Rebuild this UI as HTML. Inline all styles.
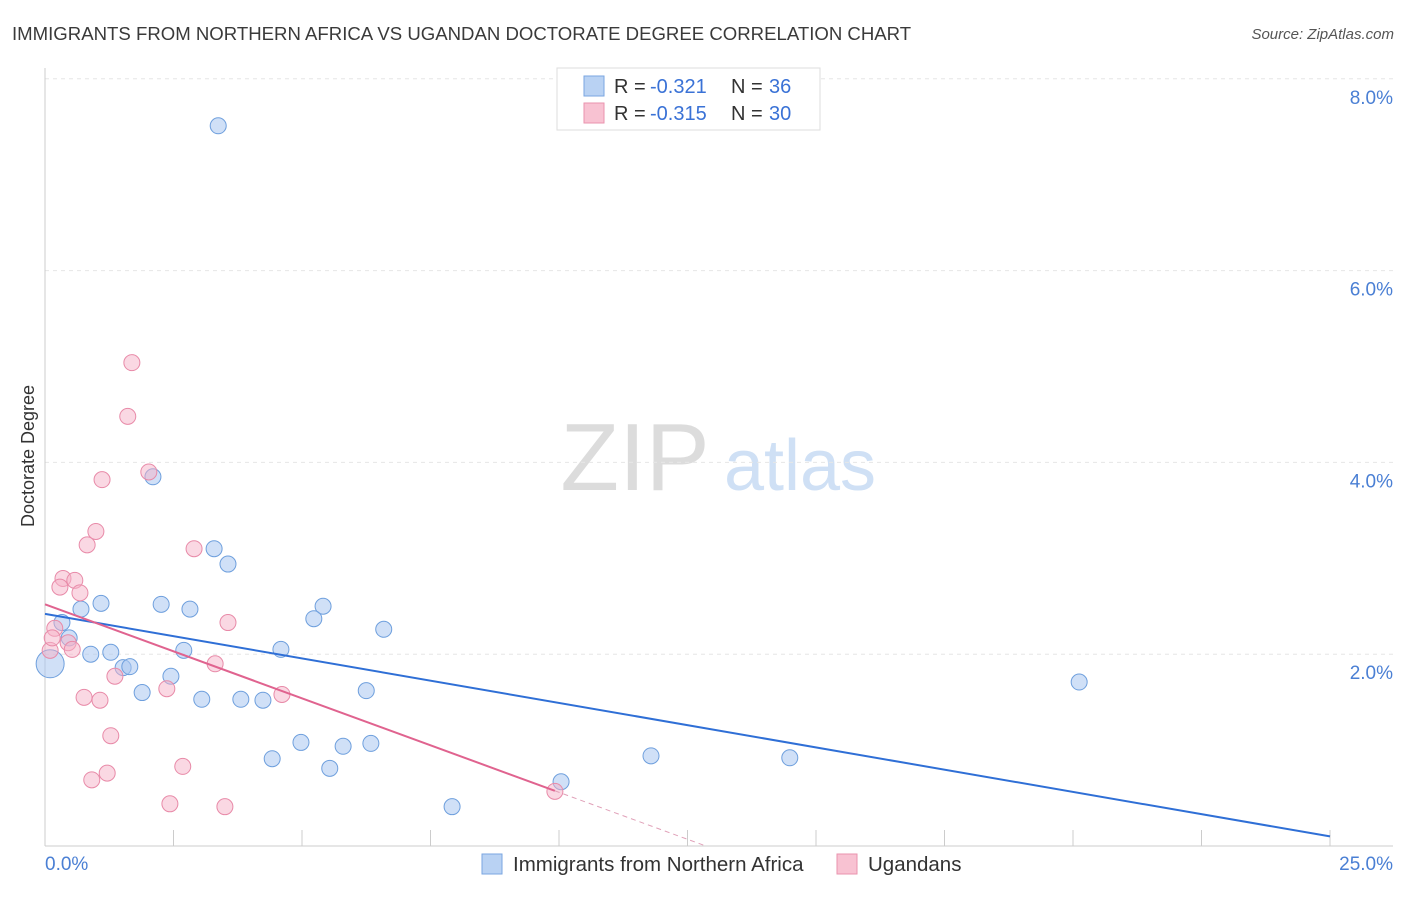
<!DOCTYPE html>
<html><head><meta charset="utf-8"><style>
body{margin:0;background:#fff;font-family:"Liberation Sans",sans-serif;}
svg text{font-family:"Liberation Sans",sans-serif;}
</style></head><body>
<svg id="chart" width="1406" height="892" viewBox="0 0 1406 892" xmlns="http://www.w3.org/2000/svg">
<text x="12" y="40" font-size="18.6" fill="#3a3a3a">IMMIGRANTS FROM NORTHERN AFRICA VS UGANDAN DOCTORATE DEGREE CORRELATION CHART</text>
<text x="1394" y="39" font-size="15" fill="#555" font-style="italic" text-anchor="end">Source: ZipAtlas.com</text>
<g>
<text x="635" y="490" font-size="96" fill="#dcdcdc" text-anchor="middle" font-family="Liberation Serif">ZIP</text>
<text x="800" y="490" font-size="72" fill="#cfe0f5" text-anchor="middle">atlas</text>
</g>
<g id="grid"></g>
<g id="axes"></g>
<g id="marks"></g>
<text transform="translate(34,456) rotate(-90)" font-size="18" fill="#333" text-anchor="middle">Doctorate Degree</text>
<g>
<rect x="557" y="68" width="263" height="62" fill="#fff" stroke="#ddd"/>
<rect x="584" y="76" width="20" height="20" fill="#b9d2f3" stroke="#7aa6e0"/>
<text x="614" y="93" font-size="20" fill="#333">R =</text>
<text x="650" y="93" font-size="20" fill="#3a72d6">-0.321</text>
<text x="731" y="93" font-size="20" fill="#333">N =</text>
<text x="769" y="93" font-size="20" fill="#3a72d6">36</text>
<rect x="584" y="103" width="20" height="20" fill="#f8c2d2" stroke="#ea93ae"/>
<text x="614" y="120" font-size="20" fill="#333">R =</text>
<text x="650" y="120" font-size="20" fill="#3a72d6">-0.315</text>
<text x="731" y="120" font-size="20" fill="#333">N =</text>
<text x="769" y="120" font-size="20" fill="#3a72d6">30</text>
</g>
<g>
<rect x="482" y="854" width="20" height="20" fill="#b9d2f3" stroke="#7aa6e0"/>
<text x="513" y="871" font-size="20.5" fill="#333">Immigrants from Northern Africa</text>
<rect x="837" y="854" width="20" height="20" fill="#f8c2d2" stroke="#ea93ae"/>
<text x="868" y="871" font-size="20.5" fill="#333">Ugandans</text>
</g>
</svg>
<script>
const blueX=[3.37,2.10,3.29,3.56,1.09,0.70,2.26,2.82,5.41,5.23,6.59,0.33,0.47,0.89,1.28,2.70,4.59,1.52,1.65,2.45,0.10,1.89,3.05,3.81,4.24,6.25,20.12,4.98,4.42,5.54,5.80,6.34,11.79,14.49,10.04,7.92];
const blueY=[7.51,3.85,3.10,2.94,2.53,2.47,2.52,2.47,2.50,2.37,2.26,2.33,2.17,2.00,2.02,2.04,2.05,1.86,1.87,1.77,1.90,1.60,1.53,1.53,1.52,1.62,1.71,1.08,0.91,0.81,1.04,1.07,0.94,0.92,0.67,0.41];
const pinkX=[1.69,1.61,2.02,1.11,0.99,0.82,2.90,0.35,0.58,0.29,0.68,3.56,0.19,0.45,0.53,0.10,3.31,1.36,2.37,0.76,1.07,4.61,1.28,2.68,1.21,0.91,2.43,3.50,9.92,0.14];
const pinkY=[5.04,4.48,3.90,3.82,3.28,3.14,3.10,2.79,2.77,2.70,2.64,2.33,2.27,2.12,2.05,2.04,1.90,1.77,1.64,1.55,1.52,1.58,1.15,0.83,0.76,0.69,0.44,0.41,0.57,2.17];
const blueLine=[2.42,-0.0928];
const pinkLine=[2.52,-0.196];
const yTicks=[2,4,6,8];
const yTickLabels=["2.0%","4.0%","6.0%","8.0%"];
const xTicks=[2.5,5,7.5,10,12.5,15,17.5,20,22.5,25];
const NS="http://www.w3.org/2000/svg";
const sx=v=>45+v*51.4, sy=v=>846-v*95.9;
function mk(tag,attrs,parent){const e=document.createElementNS(NS,tag);for(const k in attrs)e.setAttribute(k,attrs[k]);document.getElementById(parent).appendChild(e);return e;}
yTicks.forEach((t,i)=>{
 const g=mk('line',{x1:45,x2:1393,y1:sy(t),y2:sy(t),stroke:'#e6e6e6','stroke-dasharray':'4,4'},'grid');
 
 
 const l=mk('text',{x:1393,y:sy(t)+25,'font-size':19,fill:'#4a7fd4','text-anchor':'end'},'axes');
 l.textContent=yTickLabels[i];
 
 
});
const ax=mk('line',{x1:45,x2:1393,y1:846,y2:846,stroke:'#ccc'},'axes');


const ay=mk('line',{x1:45,x2:45,y1:68,y2:846,stroke:'#ccc'},'axes');


xTicks.forEach(t=>{const e=mk('line',{x1:sx(t),x2:sx(t),y1:830,y2:846,stroke:'#ccc'},'axes');
 
 });
const x0=mk('text',{x:45,y:870,'font-size':19,fill:'#4a7fd4'},'axes');x0.textContent='0.0%';


const x1=mk('text',{x:1393,y:870,'font-size':19,fill:'#4a7fd4','text-anchor':'end'},'axes');x1.textContent='25.0%';


blueX.forEach((x,i)=>{const r=(i==20)?14:8;
 const c=mk('circle',{cx:sx(x),cy:sy(blueY[i]),r:r,fill:'rgba(170,199,240,0.55)',stroke:'#6e9fdd','stroke-width':1},'marks');
 
 });
pinkX.forEach((x,i)=>{
 const c=mk('circle',{cx:sx(x),cy:sy(pinkY[i]),r:8,fill:'rgba(246,178,200,0.5)',stroke:'#e88aa8','stroke-width':1},'marks');
 
 });
const bl=mk('line',{x1:sx(0),y1:sy(blueLine[0]),x2:sx(25),y2:sy(blueLine[0]+blueLine[1]*25),stroke:'#2f6fd6','stroke-width':2},'marks');


const pl=mk('line',{x1:sx(0),y1:sy(pinkLine[0]),x2:sx(9.92),y2:sy(pinkLine[0]+pinkLine[1]*9.92),stroke:'#e0638f','stroke-width':2},'marks');


const pd=mk('line',{x1:sx(9.92),y1:sy(pinkLine[0]+pinkLine[1]*9.92),x2:sx(12.86),y2:sy(pinkLine[0]+pinkLine[1]*12.86),stroke:'#e0a0b8','stroke-width':1,'stroke-dasharray':'5,4'},'marks');


</script>
</body></html>
